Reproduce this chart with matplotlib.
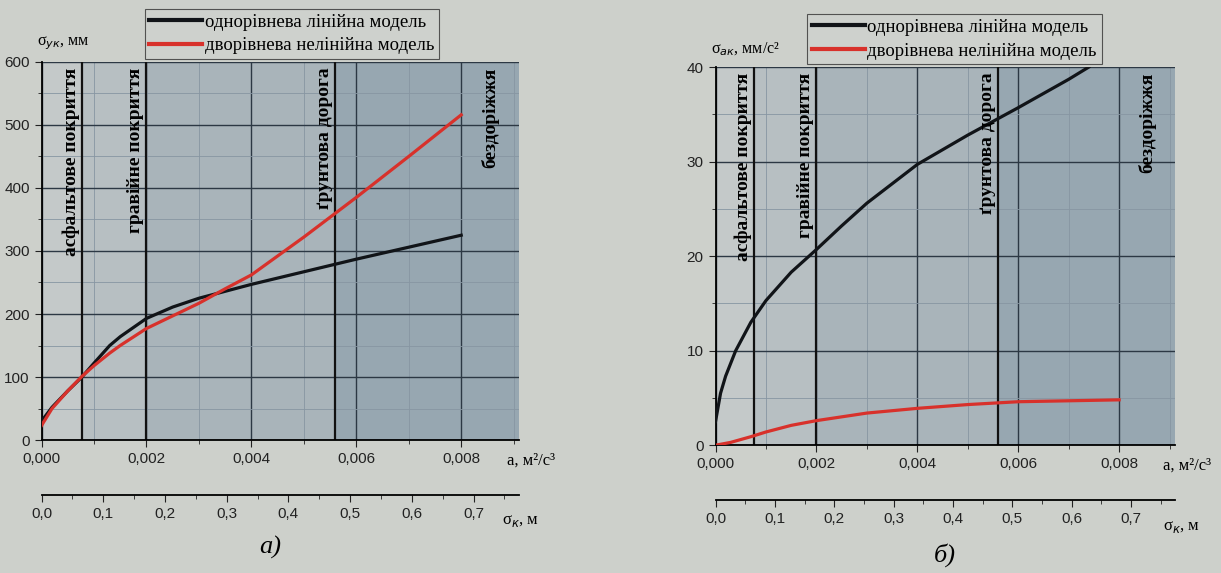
import numpy as np
import matplotlib
matplotlib.use("Agg")
import matplotlib.pyplot as plt
from matplotlib.ticker import MultipleLocator, FixedLocator, FuncFormatter

plt.rcParams['font.family'] = ['Liberation Sans', 'DejaVu Sans']

# Дані
a_left = [0, 0.0002, 0.0005, 0.00077, 0.001, 0.0013, 0.0015, 0.002, 0.0025,
          0.003, 0.0035, 0.004, 0.005, 0.006, 0.007, 0.008]
lin_left = [30, 52, 78, 100, 122, 150, 164, 193, 211, 225, 236, 247, 267, 287, 306, 325]
nonlin_left = [23, 50, 78, 101, 118, 138, 150, 177, 197, 217, 240, 262, 322, 385, 450, 516]

a_right_lin = [0, 0.0001, 0.0002, 0.0004, 0.0007, 0.001, 0.0015, 0.002, 0.0025,
               0.003, 0.004, 0.005, 0.006, 0.007, 0.0074]
lin_right = [2.5, 5.5, 7.3, 10, 13, 15.3, 18.3, 20.7, 23.2, 25.6, 29.7, 32.8, 35.7, 38.7, 40.0]
a_right_nl = [0, 0.0003, 0.0007, 0.001, 0.0015, 0.002, 0.0025, 0.003, 0.004,
              0.005, 0.006, 0.007, 0.008]
nonlin_right = [0, 0.3, 0.9, 1.4, 2.1, 2.6, 3.0, 3.4, 3.9, 4.3, 4.6, 4.7, 4.8]

# межі типів дороги
road_bounds = [0.00077, 0.002, 0.0056, 0.008]
road_names = ['асфальтове покриття', 'гравійне покриття', 'ґрунтова дорога', 'бездоріжжя']
legend_names = ['однорівнева лінійна модель', 'дворівнева нелінійна модель']
sigma_ticks = [0.0, 0.1, 0.2, 0.3, 0.4, 0.5, 0.6, 0.7]
sigma_minor = [0.05, 0.15, 0.25, 0.35, 0.45, 0.55, 0.65, 0.75]

x_max = 0.0091
sigma_k = 85.0  # відповідність a -> σк

fig = plt.figure(figsize=(12.21, 5.73), dpi=100, facecolor='#cdd0cb')
ax1 = fig.add_axes([0.034, 0.232, 0.391, 0.66])
ax2 = fig.add_axes([0.586, 0.223, 0.376, 0.66])

comma = lambda fmt: FuncFormatter(lambda v, p: (fmt % v).replace('.', ','))
serif = ['Liberation Serif', 'DejaVu Serif']


def setup(ax, x_lin, y_lin, x_nl, y_nl, ymax, ystep, ylabel, leg_x, caption, cap_x, cap_y, sig_x):
    ax.set_xlim(0, x_max)
    ax.set_ylim(0, ymax)
    shades = ['#c4c9c9', '#b7bfc2', '#a9b4ba', '#97a7b1']
    edges = [0] + road_bounds[:3] + [x_max]
    for i in range(4):
        ax.axvspan(edges[i], edges[i + 1], color=shades[i], zorder=0, lw=0)

    ax.xaxis.set_major_locator(MultipleLocator(0.002))
    ax.xaxis.set_minor_locator(MultipleLocator(0.001))
    ax.yaxis.set_major_locator(MultipleLocator(ystep))
    ax.yaxis.set_minor_locator(MultipleLocator(ystep / 2))
    ax.grid(True, which='major', color='#2c3844', lw=1.0, zorder=1)
    ax.grid(True, which='minor', color='#8796a2', lw=0.6, zorder=1)
    for b in road_bounds[:3]:
        ax.axvline(b, color='#111111', lw=1.6, zorder=2)

    ax.plot(x_lin, y_lin, color='#111418', lw=2.3, zorder=4, label=legend_names[0])
    ax.plot(x_nl, y_nl, color='#d8312b', lw=2.3, zorder=4, label=legend_names[1])

    for spine in ['top', 'right']:
        ax.spines[spine].set_visible(False)
    ax.spines['left'].set_linewidth(1.3)
    ax.spines['bottom'].set_linewidth(1.3)
    ax.xaxis.set_major_formatter(comma('%.3f'))
    ax.tick_params(which='both', direction='out', labelsize=11, colors='#222222')
    ax.tick_params(which='major', length=5)
    ax.tick_params(which='minor', length=3)

    # підписи типів дороги
    tr = ax.get_xaxis_transform()
    for b, name in zip(road_bounds[:3], road_names[:3]):
        ax.text(b - 0.00004, 0.985, name, rotation=90, ha='right', va='top',
                transform=tr, family=serif, fontweight='bold', fontsize=14, zorder=5)
    ax.text((road_bounds[3] + x_max) / 2, 0.985, road_names[3], rotation=90, ha='center',
            va='top', transform=tr, family=serif, fontweight='bold', fontsize=14, zorder=5)

    sec = ax.secondary_xaxis(-0.145, functions=(lambda a: a * sigma_k, lambda s: s / sigma_k))
    sec.xaxis.set_major_locator(FixedLocator(sigma_ticks))
    sec.xaxis.set_minor_locator(FixedLocator(sigma_minor))
    sec.xaxis.set_major_formatter(comma('%.1f'))
    sec.spines['bottom'].set_linewidth(1.3)
    sec.tick_params(which='both', direction='out', labelsize=11, colors='#222222')
    sec.tick_params(which='major', length=5)
    sec.tick_params(which='minor', length=3)

    ax.text(-0.01, 1.025, ylabel, transform=ax.transAxes, ha='left', va='bottom',
            family=serif, fontsize=11.5)
    ax.text(0.975, -0.055, 'a, м²/с³', transform=ax.transAxes, ha='left', va='center',
            family=serif, fontsize=12)
    ax.text(sig_x, -0.215, 'σ$_к$, м', transform=ax.transAxes, ha='left', va='center',
            family=serif, fontsize=12)

    leg = ax.legend(loc='upper left', bbox_to_anchor=(leg_x, 1.14), frameon=True,
                    fancybox=False, prop={'family': serif, 'size': 13.5},
                    handlelength=2.8, handletextpad=0.15, borderpad=0.25,
                    labelspacing=0.35, borderaxespad=0)
    leg.get_frame().set_facecolor('#cfd2ce')
    leg.get_frame().set_edgecolor('#333333')
    leg.get_frame().set_linewidth(0.8)
    leg.set_zorder(6)
    for line in leg.get_lines():
        line.set_linewidth(3)

    ax.text(cap_x, cap_y, caption, transform=ax.transAxes, ha='center', va='center',
            family=serif, fontsize=19, style='italic')


setup(ax1, a_left, lin_left, a_left, nonlin_left, 600, 100, 'σ$_{ук}$, мм', 0.216,
      'а)', 0.48, -0.285, 0.965)
setup(ax2, a_right_lin, lin_right, a_right_nl, nonlin_right, 40, 10, 'σ$_{ак}$, мм/с²', 0.2,
      'б)', 0.5, -0.29, 0.975)

fig.savefig('out.png', dpi=100, facecolor=fig.get_facecolor())
